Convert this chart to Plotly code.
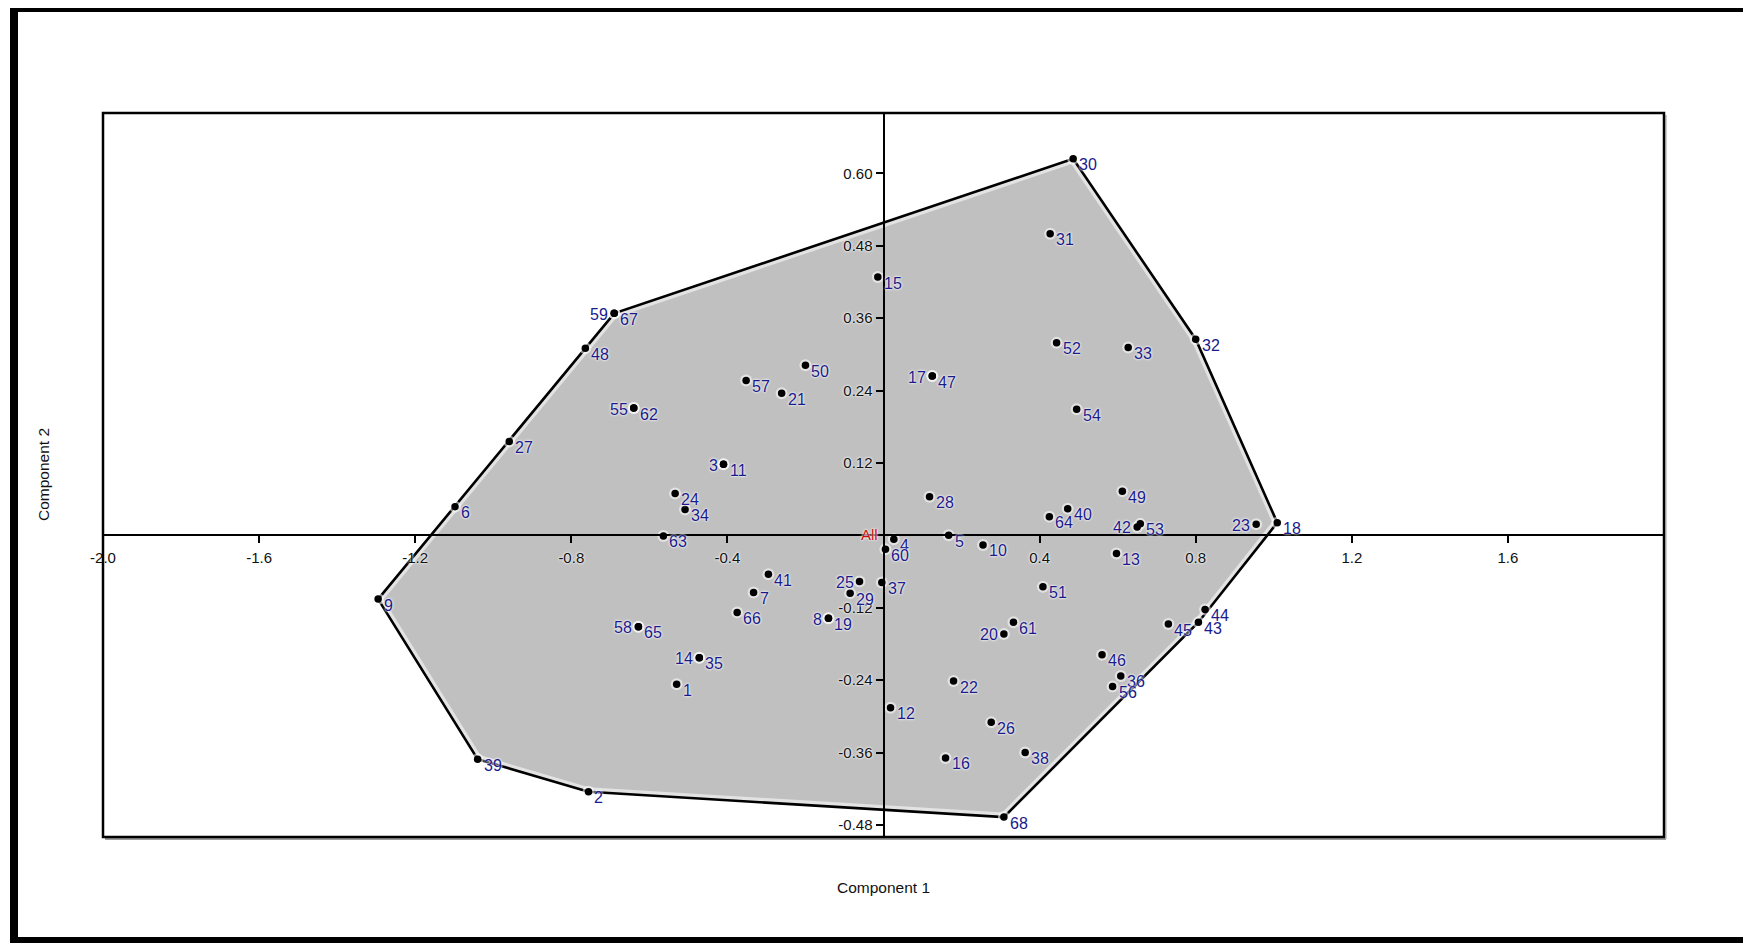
import plotly.graph_objects as go

# ---------------- data ----------------
labels = [str(i) for i in range(1, 69)]
comp1 = [-0.530, -0.756, -0.410, 0.0265, 0.167, -1.098, -0.333, -0.141, -1.295, 0.255,
         -0.410, 0.018, 0.597, -0.472, -0.0146, 0.159, 0.125, 1.009, -0.141, 0.3085,
         -0.261, 0.1795, 0.955, -0.534, -0.0615, 0.276, -0.959, 0.118, -0.0855, 0.486,
         0.427, 0.800, 0.627, -0.5085, -0.472, 0.608, -0.0043, 0.363, -1.040, 0.472,
         -0.295, 0.650, 0.807, 0.824, 0.730, 0.560, 0.125, -0.764, 0.612, -0.200,
         0.4085, 0.4435, 0.658, 0.495, -0.640, 0.587, -0.352, -0.628, -0.690, 0.005,
         0.333, -0.640, -0.564, 0.425, -0.628, -0.375, -0.690, 0.3085]
comp2 = [-0.247, -0.425, 0.118, -0.0066, 0.000, 0.0474, -0.0947, -0.1376, -0.1057, -0.016,
         0.118, -0.2857, -0.030, -0.203, 0.428, -0.369, 0.264, 0.021, -0.1376, -0.1635,
         0.2356, -0.2416, 0.0182, 0.0694, -0.0765, -0.310, 0.1557, 0.0639, -0.0958, 0.624,
         0.500, 0.325, 0.3115, 0.0429, -0.203, -0.233, -0.078, -0.360, -0.371, 0.044,
         -0.0644, 0.014, -0.144, -0.123, -0.147, -0.198, 0.264, 0.310, 0.0732, 0.282,
         -0.0853, 0.319, 0.019, 0.209, 0.211, -0.2505, 0.2565, -0.1514, 0.368, -0.023,
         -0.144, 0.211, -0.001, 0.031, -0.1514, -0.1277, 0.368, -0.467]
left_labels = ["3", "8", "14", "17", "20", "23", "25", "42", "55", "58", "59"]
group_label = "All"
group_center = (0.0, 0.0)

x_range = [-2.0, 2.0]
y_range = [-0.5, 0.7]
x_ticks = [-2.0, -1.6, -1.2, -0.8, -0.4, 0.4, 0.8, 1.2, 1.6]
y_ticks = [0.60, 0.48, 0.36, 0.24, 0.12, -0.12, -0.24, -0.36, -0.48]
x_title = "Component 1"
y_title = "Component 2"

# ---------------- convex hull of the points ----------------
def convex_hull(pts):
    pts = sorted(set(pts))
    def cross(o, a, b):
        return (a[0] - o[0]) * (b[1] - o[1]) - (a[1] - o[1]) * (b[0] - o[0])
    lower, upper = [], []
    for p in pts:
        while len(lower) >= 2 and cross(lower[-2], lower[-1], p) <= 0:
            lower.pop()
        lower.append(p)
    for p in reversed(pts):
        while len(upper) >= 2 and cross(upper[-2], upper[-1], p) <= 0:
            upper.pop()
        upper.append(p)
    return lower[:-1] + upper[:-1]

hull = convex_hull(list(zip(comp1, comp2)))
hx = [p[0] for p in hull] + [hull[0][0]]
hy = [p[1] for p in hull] + [hull[0][1]]

# ---------------- layout geometry ----------------
# the page body has an 8px margin, so the figure starts at screen (8, 8)
OFF = 8
W, H = 1751 - OFF, 943 - OFF
PL, PR, PT, PB = 103, 1664, 113, 837          # plot box in screen pixels
ML, MR, MT, MB = PL - OFF, W - (PR - OFF), PT - OFF, H - (PB - OFF)
PW, PH = W - ML - MR, H - MT - MB

def px_x(sx):
    return (sx - OFF - ML) / PW

def px_y(sy):
    return (H - MB - (sy - OFF)) / PH

FONT = "Liberation Sans, Arial, sans-serif"
LABEL_BLUE = "#1a1a8c"
HALO = "0px 0px 2px white, 0px 0px 3px white"

fig = go.Figure()

# hull fill
fig.add_trace(go.Scatter(x=hx, y=hy, mode="lines", fill="toself",
                         fillcolor="#c0c0c0", line=dict(color="rgba(0,0,0,0)", width=0),
                         hoverinfo="skip", showlegend=False))
# soft white glow along hull edge
fig.add_trace(go.Scatter(x=hx, y=hy, mode="lines",
                         line=dict(color="rgba(255,255,255,0.55)", width=9),
                         hoverinfo="skip", showlegend=False))
# hull outline
fig.add_trace(go.Scatter(x=hx, y=hy, mode="lines",
                         line=dict(color="black", width=2.6),
                         hoverinfo="skip", showlegend=False))
# point halo
fig.add_trace(go.Scatter(x=comp1, y=comp2, mode="markers",
                         marker=dict(size=12, color="rgba(255,255,255,0.55)", line=dict(width=0)),
                         hoverinfo="skip", showlegend=False))
# points
fig.add_trace(go.Scatter(x=comp1, y=comp2, mode="markers", text=labels,
                         marker=dict(size=7.5, color="black", line=dict(width=0)),
                         showlegend=False))

annotations = []
for lab, xv, yv in zip(labels, comp1, comp2):
    if lab in left_labels:
        annotations.append(dict(x=xv, y=yv, xref="x", yref="y", text=lab, showarrow=False,
                                xanchor="right", yanchor="middle", xshift=-4, yshift=-1,
                                font=dict(family=FONT, size=16, color=LABEL_BLUE, shadow=HALO)))
    else:
        annotations.append(dict(x=xv, y=yv, xref="x", yref="y", text=lab, showarrow=False,
                                xanchor="left", yanchor="middle", xshift=4, yshift=-6,
                                font=dict(family=FONT, size=16, color=LABEL_BLUE, shadow=HALO)))
annotations.append(dict(x=group_center[0], y=group_center[1], xref="x", yref="y", text=group_label,
                        showarrow=False, xanchor="right", yanchor="middle", xshift=-4, yshift=1,
                        font=dict(family=FONT, size=15, color="#cc1111", shadow=HALO)))
annotations.append(dict(x=px_x(883), y=px_y(887), xref="paper", yref="paper", text=x_title,
                        showarrow=False, xanchor="center", yanchor="middle",
                        font=dict(family=FONT, size=15.5, color="#111111")))
annotations.append(dict(x=px_x(43), y=px_y(475), xref="paper", yref="paper", text=y_title,
                        showarrow=False, xanchor="center", yanchor="middle", textangle=-90,
                        font=dict(family=FONT, size=15.5, color="#111111")))

# axes cross at the origin
xaxis_pos = (0 - y_range[0]) / (y_range[1] - y_range[0])
yaxis_pos = (0 - x_range[0]) / (x_range[1] - x_range[0])

def band(x0, x1, y0, y1, color="black"):
    return dict(type="rect", xref="paper", yref="paper",
                x0=px_x(x0), x1=px_x(x1), y0=px_y(y1), y1=px_y(y0),
                fillcolor=color, line=dict(width=0), layer="above")

shapes = [
    # soft shadow of the plot frame
    dict(type="line", xref="paper", yref="paper", x0=px_x(PL + 2), x1=px_x(PR + 2),
         y0=px_y(PB + 2), y1=px_y(PB + 2), line=dict(color="#9a9a9a", width=2), layer="below"),
    dict(type="line", xref="paper", yref="paper", x0=px_x(PR + 2), x1=px_x(PR + 2),
         y0=px_y(PB + 2), y1=px_y(PT + 2), line=dict(color="#bdbdbd", width=1.5), layer="below"),
    # plot frame
    dict(type="rect", xref="paper", yref="paper", x0=0, x1=1, y0=0, y1=1,
         line=dict(color="black", width=2.5), layer="above"),
    # outer picture frame
    band(10, 18, 0, 943),
    band(10, 1751, 0, 12),
    band(10, 1751, 937, 943),
    band(1747, 1751, 0, 943, "#7a7a7a"),
]

fig.update_layout(
    width=W, height=H,
    margin=dict(l=ML, r=MR, t=MT, b=MB, pad=0),
    paper_bgcolor="white", plot_bgcolor="rgba(0,0,0,0)",
    showlegend=False,
    xaxis=dict(range=x_range, anchor="free", position=xaxis_pos,
               showgrid=False, zeroline=False, showline=True, linecolor="black", linewidth=2,
               ticks="outside", ticklen=7, tickwidth=1.5, tickcolor="black",
               tickvals=x_ticks, ticktext=[f"{v:.1f}" for v in x_ticks],
               tickfont=dict(family=FONT, size=15, color="#111111", shadow=HALO),
               ticklabelstandoff=2, layer="above traces", fixedrange=True),
    yaxis=dict(range=y_range, anchor="free", position=yaxis_pos,
               showgrid=False, zeroline=False, showline=True, linecolor="black", linewidth=2,
               ticks="outside", ticklen=7, tickwidth=1.5, tickcolor="black",
               tickvals=y_ticks, ticktext=[f"{v:.2f}" for v in y_ticks],
               tickfont=dict(family=FONT, size=15, color="#111111", shadow=HALO),
               layer="above traces", fixedrange=True),
    annotations=annotations,
    shapes=shapes,
)

fig.write_html("out.html")
